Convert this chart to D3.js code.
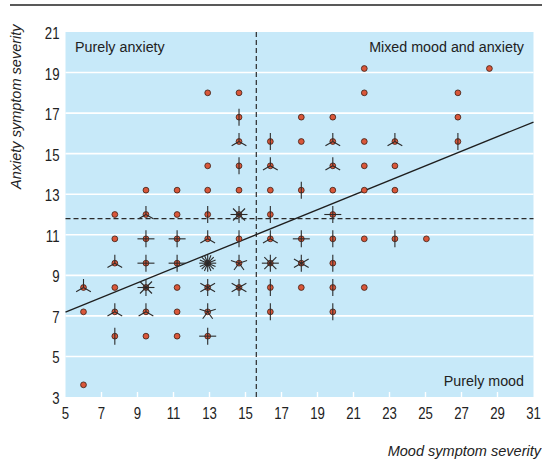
<!DOCTYPE html>
<html>
<head>
<meta charset="utf-8">
<script src="https://cdn.jsdelivr.net/npm/d3@7"></script>
<style>
  html, body { margin: 0; padding: 0; background: #fff; }
  svg { display: block; }
  text { font-family: "Liberation Sans", Arial, Helvetica, sans-serif; fill: #222; }
</style>
</head>
<body>
<svg id="chart" width="542" height="461"></svg>
<script>
// ---- data ----
const moodValues = [
  6.0, 6.0, 6.0,
  7.74, 7.74, 7.74, 7.74, 7.74, 7.74,
  9.47, 9.47, 9.47, 9.47, 9.47, 9.47, 9.47,
  11.2, 11.2, 11.2, 11.2, 11.2, 11.2, 11.2,
  12.9, 12.9, 12.9, 12.9, 12.9, 12.9, 12.9, 12.9, 12.9,
  14.64, 14.64, 14.64, 14.64, 14.64, 14.64, 14.64, 14.64, 14.64,
  16.38, 16.38, 16.38, 16.38, 16.38, 16.38, 16.38, 16.38,
  18.1, 18.1, 18.1, 18.1, 18.1, 18.1,
  19.85, 19.85, 19.85, 19.85, 19.85, 19.85, 19.85, 19.85, 19.85,
  21.6, 21.6, 21.6, 21.6, 21.6, 21.6, 21.6,
  23.3, 23.3, 23.3, 23.3,
  25.05,
  26.8, 26.8, 26.8,
  28.55
];
const anxietyValues = [
  8.4, 7.2, 3.6,
  12.0, 10.8, 9.6, 8.4, 7.2, 6.0,
  13.2, 12.0, 10.8, 9.6, 8.4, 7.2, 6.0,
  13.2, 12.0, 10.8, 9.6, 8.4, 7.2, 6.0,
  18.0, 14.4, 13.2, 12.0, 10.8, 9.6, 8.4, 7.2, 6.0,
  18.0, 16.8, 15.6, 14.4, 13.2, 12.0, 10.8, 9.6, 8.4,
  15.6, 14.4, 13.2, 12.0, 10.8, 9.6, 8.4, 7.2,
  16.8, 15.6, 13.2, 10.8, 9.6, 8.4,
  16.8, 15.6, 14.4, 13.2, 12.0, 10.8, 9.6, 8.4, 7.2,
  19.2, 18.0, 15.6, 14.4, 13.2, 10.8, 8.4,
  15.6, 14.4, 13.2, 10.8,
  10.8,
  18.0, 16.8, 15.6,
  19.2
];
const counts = [
  3, 1, 1,
  1, 1, 3, 1, 3, 2,
  1, 3, 4, 4, 8, 3, 1,
  1, 1, 4, 4, 1, 1, 1,
  1, 1, 1, 2, 3, 16, 6, 5, 4,
  1, 2, 3, 2, 1, 8, 2, 5, 6,
  2, 3, 1, 2, 3, 8, 2, 2,
  1, 1, 2, 4, 6, 1,
  1, 3, 3, 1, 4, 2, 2, 2, 2,
  1, 1, 1, 1, 1, 1, 1,
  3, 1, 1, 2,
  1,
  1, 1, 2,
  1
];
const xTicks = [5, 7, 9, 11, 13, 15, 17, 19, 21, 23, 25, 27, 29, 31];
const yTicks = [3, 5, 7, 9, 11, 13, 15, 17, 19, 21];
const regressionX = [5, 31];
const regressionY = [7.19, 16.56];
const moodCutoff = 15.6;
const anxietyCutoff = 11.8;
const regionLabels = ["Purely anxiety", "Mixed mood and anxiety", "Purely mood"];
const xTitle = "Mood symptom severity";
const yTitle = "Anxiety symptom severity";

// ---- drawing ----
const svg = d3.select("#chart");
const x = d3.scaleLinear().domain([5, 31]).range([65.5, 533.5]);
const y = d3.scaleLinear().domain([3, 21]).range([397, 32]);

// top rule
svg.append("line").attr("x1", 10).attr("x2", 542).attr("y1", 5).attr("y2", 5)
  .attr("stroke", "#222").attr("stroke-width", 1.5);

// panel
svg.append("rect")
  .attr("x", x(5)).attr("y", y(21))
  .attr("width", x(31) - x(5)).attr("height", y(3) - y(21))
  .attr("fill", "#c7e9f9");

// gridlines
svg.append("g").selectAll("line")
  .data(yTicks.filter(d => d > 3 && d < 21))
  .join("line")
  .attr("x1", x(5)).attr("x2", x(31))
  .attr("y1", d => y(d)).attr("y2", d => y(d))
  .attr("stroke", "#fff").attr("stroke-width", 1.6);

// x tick marks (white, inside panel)
svg.append("g").selectAll("line")
  .data(xTicks.filter(d => d > 5 && d < 31))
  .join("line")
  .attr("x1", d => x(d)).attr("x2", d => x(d))
  .attr("y1", y(3)).attr("y2", y(3) - 5)
  .attr("stroke", "#fff").attr("stroke-width", 1.4);

// dashed cutoffs
svg.append("line")
  .attr("x1", x(moodCutoff)).attr("x2", x(moodCutoff))
  .attr("y1", y(21)).attr("y2", y(3))
  .attr("stroke", "#2a2a2a").attr("stroke-width", 1.2).attr("stroke-dasharray", "5,3");
svg.append("line")
  .attr("x1", x(5)).attr("x2", x(31))
  .attr("y1", y(anxietyCutoff)).attr("y2", y(anxietyCutoff))
  .attr("stroke", "#2a2a2a").attr("stroke-width", 1.2).attr("stroke-dasharray", "5,3");

// regression line
svg.append("line")
  .attr("x1", x(regressionX[0])).attr("y1", y(regressionY[0]))
  .attr("x2", x(regressionX[1])).attr("y2", y(regressionY[1]))
  .attr("stroke", "#1e1e1e").attr("stroke-width", 1.3);

// points (sunflowers)
const pts = moodValues.map((m, i) => ({ mx: m, ay: anxietyValues[i], n: counts[i] }));
const g = svg.append("g");
g.selectAll("circle").data(pts).join("circle")
  .attr("cx", d => x(d.mx)).attr("cy", d => y(d.ay)).attr("r", 2.9)
  .attr("fill", "#d9573a").attr("stroke", "#3d1e14").attr("stroke-width", 0.8);

const petalLen = 8.5;
const petals = [];
pts.forEach(p => {
  if (p.n > 1) {
    for (let i = 0; i < p.n; i++) {
      const a = Math.PI / 2 + i * 2 * Math.PI / p.n;
      petals.push({ cx: x(p.mx), cy: y(p.ay), a });
    }
  }
});
g.selectAll("line.petal").data(petals).join("line").attr("class", "petal")
  .attr("x1", d => d.cx).attr("y1", d => d.cy)
  .attr("x2", d => d.cx + petalLen * Math.cos(d.a))
  .attr("y2", d => d.cy - petalLen * Math.sin(d.a))
  .attr("stroke", "#2b2b2b").attr("stroke-width", 1.1);

// axis tick labels (condensed look via horizontal scale)
svg.append("g").selectAll("text").data(xTicks).join("text")
  .attr("transform", d => `translate(${x(d)},419) scale(0.8,1)`)
  .attr("text-anchor", "middle").attr("font-size", 16.5)
  .text(d => d);
svg.append("g").selectAll("text").data(yTicks).join("text")
  .attr("transform", d => `translate(59.5,${y(d) + 1}) scale(0.8,1)`)
  .attr("dy", "0.36em")
  .attr("text-anchor", "end").attr("font-size", 16.5)
  .text(d => d);

// region labels
svg.append("text").attr("transform", "translate(75,52) scale(0.94,1)").attr("font-size", 15.2)
  .text(regionLabels[0]);
svg.append("text").attr("transform", "translate(524,52) scale(0.94,1)").attr("font-size", 15.2)
  .attr("text-anchor", "end").text(regionLabels[1]);
svg.append("text").attr("transform", "translate(524,386) scale(0.94,1)").attr("font-size", 15.2)
  .attr("text-anchor", "end").text(regionLabels[2]);

// axis titles
svg.append("text").attr("transform", "translate(541,456) scale(0.95,1)").attr("font-size", 15.3)
  .attr("font-style", "italic").attr("text-anchor", "end").text(xTitle);
svg.append("text").attr("transform", "translate(21,189) rotate(-90) scale(0.95,1)")
  .attr("font-size", 15.3)
  .attr("font-style", "italic").attr("text-anchor", "start").text(yTitle);
</script>
</body>
</html>
